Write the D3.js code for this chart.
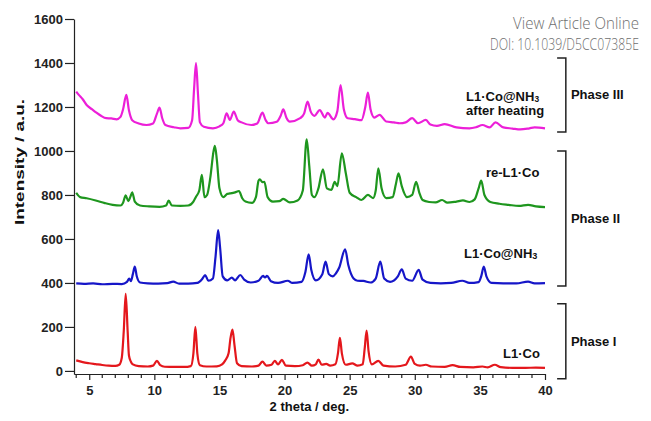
<!DOCTYPE html>
<html>
<head>
<meta charset="utf-8">
<script src="https://cdn.jsdelivr.net/npm/d3@7"></script>
<style>
  html, body { margin: 0; padding: 0; background: #fff; }
  svg { display: block; }
  .ax text { font-family: "Liberation Sans", Arial, Helvetica, sans-serif; font-weight: bold; font-size: 13px; fill: #222; }
  .ax path, .ax line { stroke: #222; stroke-width: 1.2; }
  .lbl { font-family: "Liberation Sans", Arial, Helvetica, sans-serif; font-weight: bold; font-size: 13px; fill: #111; }
</style>
</head>
<body>
<svg id="chart" width="651" height="421"></svg>
<script>
// ---- data: [2theta (deg), intensity (a.u.)] ----
const l1Co = [[4.0,48],[4.5,40],[5.0,35],[5.5,31],[6.0,27],[6.5,24],[7.0,23],[7.3,28],[7.5,60],[7.65,180],[7.8,350],[7.95,180],[8.05,70],[8.2,42],[8.35,30],[8.8,22],[9.5,20],[9.9,24],[10.2,46],[10.45,26],[10.8,19],[11.5,18],[12.3,18],[12.8,22],[13.0,80],[13.15,200],[13.3,80],[13.5,26],[14.0,20],[14.8,21],[15.2,30],[15.45,48],[15.7,80],[15.85,150],[16.0,188],[16.15,120],[16.35,35],[16.7,22],[17.5,20],[18.0,24],[18.3,42],[18.6,24],[19.0,28],[19.25,46],[19.5,30],[19.8,50],[20.1,24],[20.8,22],[21.4,26],[21.75,38],[22.1,24],[22.4,30],[22.6,52],[22.85,28],[23.2,32],[23.5,24],[23.9,30],[24.1,80],[24.25,150],[24.4,80],[24.7,28],[25.2,34],[25.6,24],[26.0,30],[26.15,100],[26.3,183],[26.45,90],[26.7,30],[27.2,46],[27.6,24],[28.5,20],[29.3,28],[29.7,65],[30.0,32],[30.4,24],[30.85,28],[31.3,20],[32.3,18],[32.9,26],[33.5,18],[34.5,16],[35.2,20],[35.6,16],[36.15,28],[36.6,17],[37.5,14],[38.5,14],[39.3,15],[40,14]];

const l1CoNH3 = [[4.0,398],[4.6,396],[5.3,398],[6.0,394],[6.8,396],[7.5,395],[7.9,405],[8.07,420],[8.2,408],[8.35,440],[8.5,474],[8.65,430],[8.9,402],[9.5,398],[10.3,397],[11.0,399],[11.45,406],[11.9,397],[12.6,397],[13.3,400],[13.7,420],[13.9,436],[14.15,410],[14.5,420],[14.7,520],[14.9,640],[15.05,560],[15.25,430],[15.6,412],[15.95,424],[16.2,412],[16.6,436],[16.9,415],[17.4,402],[18.0,410],[18.35,432],[18.5,425],[18.65,432],[18.95,408],[19.5,400],[20.25,410],[20.6,400],[21.3,405],[21.6,450],[21.85,530],[22.05,460],[22.4,412],[22.9,440],[23.15,497],[23.4,440],[23.7,430],[23.95,444],[24.2,470],[24.65,553],[24.9,480],[25.3,420],[25.6,410],[26.05,409],[26.6,402],[27.0,420],[27.35,497],[27.65,420],[28.1,405],[28.7,430],[29.0,462],[29.3,420],[29.8,410],[30.3,459],[30.6,415],[31.2,400],[32.0,398],[32.8,400],[33.65,410],[34.2,400],[34.9,404],[35.1,430],[35.3,474],[35.5,430],[35.9,400],[36.8,398],[37.8,398],[38.7,406],[39.2,398],[40,399]];

const reL1Co = [[4.0,810],[4.3,790],[4.8,785],[5.5,775],[6.2,763],[6.8,755],[7.4,752],[7.6,765],[7.8,798],[8.0,772],[8.15,790],[8.3,812],[8.5,770],[8.9,752],[9.6,748],[10.4,746],[10.9,752],[11.1,774],[11.35,752],[12.0,750],[12.6,752],[13.0,770],[13.2,792],[13.45,820],[13.65,891],[13.85,790],[14.05,800],[14.3,880],[14.55,1000],[14.65,1023],[14.8,960],[15.0,830],[15.3,790],[15.6,805],[15.8,807],[16.2,812],[16.5,818],[16.75,785],[17.0,770],[17.5,764],[17.8,790],[18.0,865],[18.1,871],[18.3,858],[18.45,860],[18.7,790],[19.1,770],[19.6,772],[19.9,782],[20.4,766],[21.0,775],[21.4,820],[21.7,1053],[21.9,930],[22.1,800],[22.3,790],[22.6,830],[22.95,917],[23.25,830],[23.6,823],[23.85,860],[24.05,840],[24.4,989],[24.7,900],[25.0,810],[25.5,790],[25.9,777],[26.4,800],[26.8,786],[27.0,820],[27.2,921],[27.45,830],[27.8,786],[28.3,790],[28.55,850],[28.75,898],[29.0,840],[29.4,790],[29.8,800],[30.1,860],[30.35,810],[30.6,777],[31.1,768],[31.6,766],[32.1,777],[32.5,765],[33.2,770],[33.7,775],[34.2,768],[34.6,780],[34.9,830],[35.1,865],[35.35,800],[35.8,768],[36.5,760],[37.2,755],[38.0,750],[38.7,755],[39.3,748],[40,745]];

const afterHeating = [[4.0,1270],[4.2,1255],[4.5,1235],[4.8,1209],[5.2,1190],[5.55,1174],[5.9,1160],[6.3,1149],[6.7,1148],[7.1,1144],[7.4,1155],[7.6,1190],[7.85,1255],[8.05,1185],[8.3,1140],[8.8,1125],[9.4,1118],[9.9,1125],[10.2,1170],[10.4,1197],[10.6,1150],[10.85,1118],[11.5,1108],[12.0,1103],[12.6,1105],[12.9,1140],[13.05,1280],[13.2,1399],[13.35,1260],[13.5,1130],[13.8,1110],[14.5,1103],[15.0,1112],[15.3,1126],[15.55,1171],[15.8,1141],[16.1,1179],[16.4,1140],[16.7,1130],[17.45,1118],[17.9,1125],[18.3,1174],[18.55,1140],[18.75,1126],[19.4,1133],[19.7,1160],[19.9,1189],[20.15,1150],[20.4,1133],[21.2,1149],[21.5,1170],[21.77,1224],[22.0,1180],[22.3,1160],[22.7,1186],[23.1,1152],[23.3,1173],[23.75,1144],[24.05,1180],[24.3,1300],[24.55,1190],[24.85,1149],[25.4,1145],[25.9,1140],[26.2,1200],[26.4,1265],[26.6,1190],[26.9,1152],[27.3,1164],[27.8,1134],[28.4,1130],[28.85,1126],[29.3,1130],[29.8,1149],[30.25,1126],[30.85,1141],[31.2,1120],[31.7,1114],[32.3,1122],[33.2,1107],[34.2,1103],[34.7,1108],[35.2,1118],[35.75,1107],[36.2,1130],[36.8,1107],[37.5,1102],[38.1,1098],[38.8,1103],[39.2,1107],[40,1103]];

const seriesColors = ["#e4171c", "#1616c8", "#1e961e", "#ec1fd8"];
const xTicks = [5, 10, 15, 20, 25, 30, 35, 40];
const yTicks = [0, 200, 400, 600, 800, 1000, 1200, 1400, 1600];
const phases = [
  { name: "Phase III", top: 1423, bottom: 1086 },
  { name: "Phase II",  top: 1000, bottom: 386 },
  { name: "Phase I",   top: 305,  bottom: -36 }
];

// ---- drawing ----
const svg = d3.select("#chart");
const x = d3.scaleLinear().domain([3.83, 40]).range([74, 545]);
const y = d3.scaleLinear().domain([-14, 1600]).range([374, 19]);

// watermark: 16px text squeezed horizontally to the reference's width
function watermark(txt, baseY, target) {
  const t = svg.append("text").attr("text-anchor", "end")
    .attr("font-family", "'Open Sans', 'Noto Sans', sans-serif").attr("font-weight", 300)
    .attr("font-size", 16).attr("fill", "#6e6e6e").text(txt);
  const w = t.node().getComputedTextLength();
  t.attr("transform", `translate(639,${baseY}) scale(${target / w},1)`);
}
watermark("View Article Online", 29, 126);
watermark("DOI: 10.1039/D5CC07385E", 49.5, 149);

// axes
const xAxis = d3.axisBottom(x).tickValues(xTicks).tickSize(6).tickSizeOuter(0).tickPadding(6).tickFormat(d3.format("d"));
const gx = svg.append("g").attr("class", "ax").attr("transform", `translate(0,${y(-14)})`).call(xAxis);
gx.selectAll(".tick text").attr("dy", "0.72em");
const minor = d3.range(4, 41).filter(v => !xTicks.includes(v));
gx.selectAll(".minor").data(minor).join("line").attr("class", "minor")
  .attr("x1", d => x(d)).attr("x2", d => x(d)).attr("y1", 0).attr("y2", 4)
  .attr("stroke", "#222").attr("stroke-width", 1.2);

const yAxis = d3.axisLeft(y).tickValues(yTicks).tickSize(9).tickSizeOuter(0).tickPadding(2).tickFormat(d3.format("d"));
svg.append("g").attr("class", "ax").attr("transform", `translate(${x(3.83)},0)`).call(yAxis);

// axis titles
svg.append("text").attr("class", "lbl").attr("font-size", 15)
  .attr("transform", `translate(19,${y(950)}) rotate(-90)`)
  .attr("text-anchor", "middle").attr("dominant-baseline", "central")
  .attr("textLength", 126).attr("lengthAdjust", "spacingAndGlyphs")
  .text("Intensity / a.u.");
svg.append("text").attr("class", "lbl").attr("font-size", 14.5)
  .attr("x", x(21.9)).attr("y", 406).attr("text-anchor", "middle").attr("dominant-baseline", "central")
  .text("2 theta / deg.");

// lines
const line = d3.line().x(d => x(d[0])).y(d => y(d[1])).curve(d3.curveMonotoneX);
[l1Co, l1CoNH3, reL1Co, afterHeating].forEach((s, i) => {
  svg.append("path").datum(s).attr("fill", "none")
    .attr("stroke", seriesColors[i]).attr("stroke-width", 2.2)
    .attr("stroke-linejoin", "round").attr("d", line);
});

// series labels
function subLabel(xv, yv, main, sub, size) {
  const t = svg.append("text").attr("class", "lbl").attr("x", x(xv)).attr("y", y(yv))
    .attr("dominant-baseline", "central").attr("font-size", size || 13);
  t.append("tspan").text(main);
  if (sub) t.append("tspan").attr("font-size", (size || 13) * 0.7).attr("dy", 3).text(sub);
  return t;
}
subLabel(36.78, 82, "L1·Co");
subLabel(33.78, 536, "L1·Co@NH", "3");
subLabel(35.47, 905, "re-L1·Co");
subLabel(33.94, 1250, "L1·Co@NH", "3", 12);
subLabel(33.94, 1186, "after heating", null, 12);

// phase brackets
const bx0 = x(40.93), bx1 = x(41.6);
phases.forEach(p => {
  svg.append("path").attr("fill", "none").attr("stroke", "#222").attr("stroke-width", 1.5)
    .attr("d", `M${bx0},${y(p.top)}H${bx1}V${y(p.bottom)}H${bx0}`);
  svg.append("text").attr("class", "lbl").attr("x", x(41.99)).attr("y", y((p.top + p.bottom) / 2))
    .attr("dominant-baseline", "central").text(p.name);
});
</script>
</body>
</html>
